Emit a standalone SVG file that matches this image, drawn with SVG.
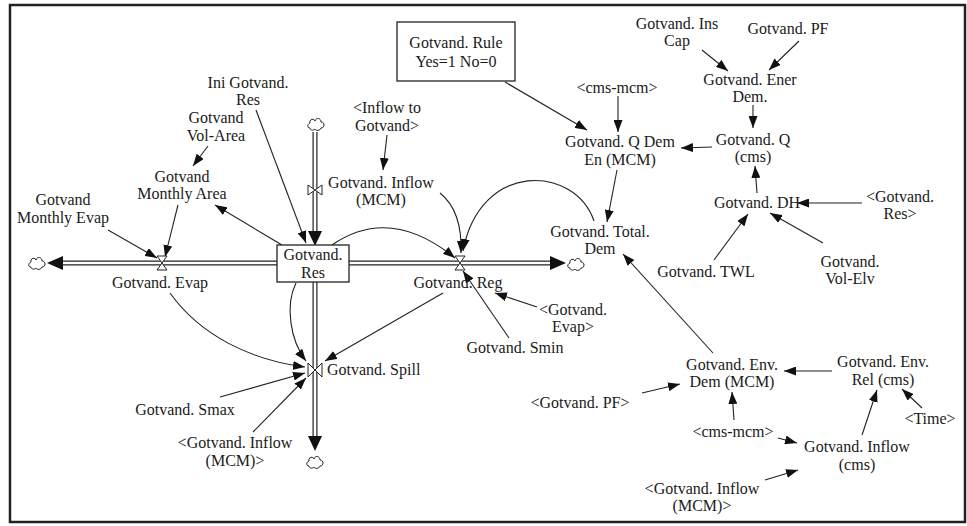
<svg xmlns="http://www.w3.org/2000/svg" width="967" height="526" viewBox="0 0 967 526">
<style>
text{font-size:16px;fill:#1a1a1a;text-anchor:middle}
.c{fill:none;stroke:#222;stroke-width:1.1}
.pipeo{fill:none;stroke:#222;stroke-width:5}
.pipei{fill:none;stroke:#fff;stroke-width:2.6}
.box{fill:#fff;stroke:#222;stroke-width:1.3}
.valve{fill:#fff;stroke:#222;stroke-width:1}
.cloud{fill:#fff;stroke:#222;stroke-width:1}
.ph{fill:#111}
</style>
<defs>
<marker id="ah" markerUnits="userSpaceOnUse" markerWidth="12" markerHeight="9" refX="12" refY="4.5" orient="auto">
<path d="M0,0 L12,4.5 L0,9 z" fill="#111"/>
</marker>
<path id="cl" class="cloud" d="M-6,4 C-9,4 -9,0 -6,-1 C-7,-5 -2,-6 -1,-3 C0,-7 5,-6 5,-2 C9,-2 9,4 5,4 C4,7 0,7 -1,5 C-3,7 -6,6 -6,4 z"/>
</defs>
<rect x="10" y="5" width="955" height="517" fill="#fff" stroke="#222" stroke-width="2.5"/>

<g id="pipes">
<path class="pipeo" d="M63,263 H277"/>
<path class="pipei" d="M63,263 H277"/>
<path class="pipeo" d="M349,263 H550"/>
<path class="pipei" d="M349,263 H550"/>
<path class="pipeo" d="M315,132 V232"/>
<path class="pipei" d="M315,132 V232"/>
<path class="pipeo" d="M315,282 V436"/>
<path class="pipei" d="M315,282 V436"/>
<polygon class="ph" points="47,263 63,256 63,270"/>
<polygon class="ph" points="566,263 550,256 550,270"/>
<polygon class="ph" points="315,246 308,231 322,231"/>
<polygon class="ph" points="315,451 308,436 322,436"/>
<use href="#cl" x="37" y="263"/>
<use href="#cl" x="576" y="264"/>
<use href="#cl" x="316" y="124"/>
<use href="#cl" x="315" y="462"/>
</g>

<g id="connectors">
<path class="c" marker-end="url(#ah)" d="M256,110 L306,243"/>
<path class="c" marker-end="url(#ah)" d="M208,146 L193,166"/>
<path class="c" marker-end="url(#ah)" d="M282,245 L215,205"/>
<path class="c" marker-end="url(#ah)" d="M178,205 L165,257"/>
<path class="c" marker-end="url(#ah)" d="M108,230 L157,258"/>
<path class="c" marker-end="url(#ah)" d="M387,135 L383,170"/>
<path class="c" marker-end="url(#ah)" d="M332,245 Q390,205 455,258"/>
<path class="c" marker-end="url(#ah)" d="M440,193 C455,205 462,225 461,253"/>
<path class="c" marker-end="url(#ah)" d="M594,221 C575,165 480,160 463,251"/>
<path class="c" marker-end="url(#ah)" d="M537,307 L495,293"/>
<path class="c" marker-end="url(#ah)" d="M509,338 L463,271"/>
<path class="c" marker-end="url(#ah)" d="M443,293 L325,361"/>
<path class="c" marker-end="url(#ah)" d="M170,293 C200,335 250,360 305,367"/>
<path class="c" marker-end="url(#ah)" d="M296,283 C285,305 290,340 306,361"/>
<path class="c" marker-end="url(#ah)" d="M220,397 L305,373"/>
<path class="c" marker-end="url(#ah)" d="M253,432 L306,378"/>
<path class="c" marker-end="url(#ah)" d="M505,82 L587,130"/>
<path class="c" marker-end="url(#ah)" d="M618,96 L618,132"/>
<path class="c" marker-end="url(#ah)" d="M712,147 L681,148"/>
<path class="c" marker-end="url(#ah)" d="M617,170 L607,222"/>
<path class="c" marker-end="url(#ah)" d="M702,50 L728,71"/>
<path class="c" marker-end="url(#ah)" d="M799,41 L769,70"/>
<path class="c" marker-end="url(#ah)" d="M753,105 L753,128"/>
<path class="c" marker-end="url(#ah)" d="M757,193 L755,166"/>
<path class="c" marker-end="url(#ah)" d="M862,203 L797,203"/>
<path class="c" marker-end="url(#ah)" d="M714,260 L748,214"/>
<path class="c" marker-end="url(#ah)" d="M823,243 L770,213"/>
<path class="c" marker-end="url(#ah)" d="M713,353 L623,254"/>
<path class="c" marker-end="url(#ah)" d="M832,371 L784,371"/>
<path class="c" marker-end="url(#ah)" d="M642,393 L680,384"/>
<path class="c" marker-end="url(#ah)" d="M734,420 L732,392"/>
<path class="c" marker-end="url(#ah)" d="M778,438 L797,443"/>
<path class="c" marker-end="url(#ah)" d="M862,435 L877,390"/>
<path class="c" marker-end="url(#ah)" d="M922,408 L902,389"/>
<path class="c" marker-end="url(#ah)" d="M765,480 L798,470"/>
</g>

<g id="valves">
<path class="valve" d="M157,256 H167 L157,270 H167 Z"/>
<path class="valve" d="M455,256 H465 L455,270 H465 Z"/>
<path class="valve" d="M308,185 V195 L322,185 V195 Z"/>
<path class="valve" d="M308,363 V377 L322,363 V377 Z"/>
</g>

<g id="nodes" font-family="Liberation Serif, Times New Roman, serif">
<g id="gotvand-res"><rect class="box" x="277" y="245" width="72" height="37"/><text x="313" y="260">Gotvand.</text><text x="313" y="278">Res</text></g>
<g id="gotvand-rule"><rect class="box" x="397" y="22" width="118" height="59"/><text x="456" y="48">Gotvand. Rule</text><text x="456" y="67">Yes=1 No=0</text></g>
<g id="ini-res"><text x="248" y="88">Ini Gotvand.</text><text x="248" y="105">Res</text></g>
<g id="vol-area"><text x="216" y="123">Gotvand</text><text x="216" y="141">Vol-Area</text></g>
<g id="monthly-area"><text x="182" y="182">Gotvand</text><text x="182" y="199">Monthly Area</text></g>
<g id="monthly-evap"><text x="63" y="205">Gotvand</text><text x="63" y="223">Monthly Evap</text></g>
<g id="evap"><text x="160" y="288">Gotvand. Evap</text></g>
<g id="inflow-to"><text x="387" y="113">&lt;Inflow to</text><text x="387" y="131">Gotvand&gt;</text></g>
<g id="inflow-mcm"><text x="381" y="188">Gotvand. Inflow</text><text x="381" y="205">(MCM)</text></g>
<g id="reg"><text x="458" y="288">Gotvand. Reg</text></g>
<g id="evap-ghost"><text x="573" y="315">&lt;Gotvand.</text><text x="573" y="332">Evap&gt;</text></g>
<g id="smin"><text x="515" y="353">Gotvand. Smin</text></g>
<g id="spill"><text x="327" y="375" text-anchor="start" style="text-anchor:start">Gotvand. Spill</text></g>
<g id="smax"><text x="185" y="415">Gotvand. Smax</text></g>
<g id="inflow-ghost1"><text x="235" y="448">&lt;Gotvand. Inflow</text><text x="235" y="466">(MCM)&gt;</text></g>
<g id="cms-mcm1"><text x="617" y="93">&lt;cms-mcm&gt;</text></g>
<g id="q-dem-en"><text x="620" y="147">Gotvand. Q Dem</text><text x="620" y="165">En (MCM)</text></g>
<g id="total-dem"><text x="600" y="237">Gotvand. Total.</text><text x="600" y="254">Dem</text></g>
<g id="ins-cap"><text x="677" y="29">Gotvand. Ins</text><text x="677" y="46">Cap</text></g>
<g id="pf"><text x="788" y="34">Gotvand. PF</text></g>
<g id="ener-dem"><text x="750" y="85">Gotvand. Ener</text><text x="750" y="102">Dem.</text></g>
<g id="q-cms"><text x="753" y="145">Gotvand. Q</text><text x="753" y="162">(cms)</text></g>
<g id="dh"><text x="757" y="208">Gotvand. DH</text></g>
<g id="res-ghost"><text x="900" y="202">&lt;Gotvand.</text><text x="900" y="219">Res&gt;</text></g>
<g id="twl"><text x="706" y="277">Gotvand. TWL</text></g>
<g id="vol-elv"><text x="850" y="267">Gotvand.</text><text x="850" y="284">Vol-Elv</text></g>
<g id="env-dem"><text x="732" y="370">Gotvand. Env.</text><text x="732" y="387">Dem (MCM)</text></g>
<g id="env-rel"><text x="883" y="367">Gotvand. Env.</text><text x="883" y="385">Rel (cms)</text></g>
<g id="time"><text x="930" y="424">&lt;Time&gt;</text></g>
<g id="cms-mcm2"><text x="733" y="437">&lt;cms-mcm&gt;</text></g>
<g id="inflow-cms"><text x="857" y="452">Gotvand. Inflow</text><text x="857" y="470">(cms)</text></g>
<g id="inflow-ghost2"><text x="702" y="494">&lt;Gotvand. Inflow</text><text x="702" y="511">(MCM)&gt;</text></g>
<g id="pf-ghost"><text x="580" y="408">&lt;Gotvand. PF&gt;</text></g>
</g>
</svg>
